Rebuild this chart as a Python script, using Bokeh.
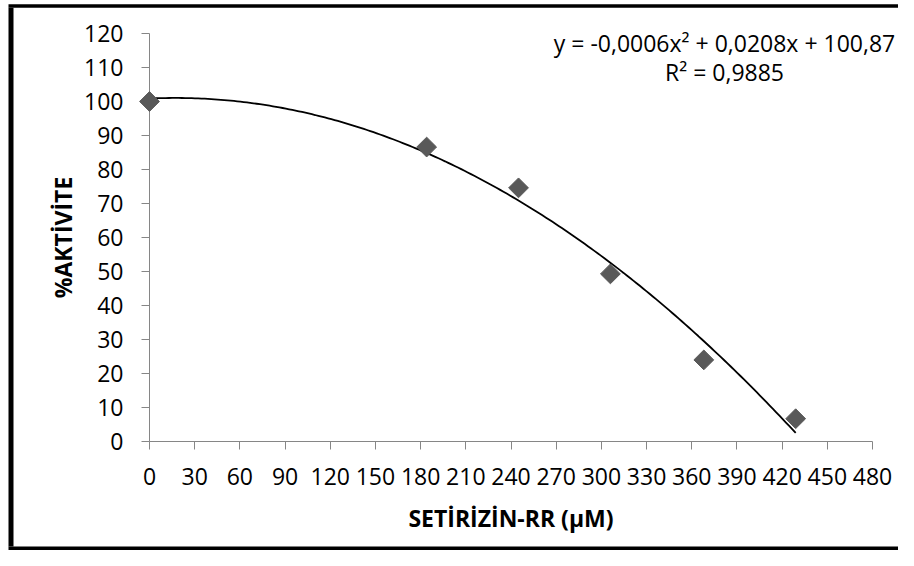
import numpy as np
from bokeh.plotting import figure
from bokeh.models import Range1d, FixedTicker
from bokeh.core.properties import value
from bokeh.embed import file_html
from bokeh.resources import INLINE

# data
conc = [0, 184, 245, 306, 368, 429]
activity = [100, 86.6, 74.6, 49.3, 24.0, 6.7]
x_ticks = list(range(0, 481, 30))
y_ticks = list(range(0, 121, 10))
eq_lines = ["y = -0,0006x\u00b2 + 0,0208x + 100,87", "R\u00b2 = 0,9885"]

FONT = "Open Sans"
FS = "23px"
AXIS_GRAY = "#868686"

W, H = 898, 550
ML, MR, MT, MB = 149, 26, 33, 109
XMIN, XMAX, YMIN, YMAX = 0, 480, 0, 120
frame_w = W - ML - MR
frame_h = H - MT - MB

def sx_to_x(sx):
    return XMIN + (sx - ML) * (XMAX - XMIN) / frame_w

def sy_to_y(sy):
    return YMIN + (MT + frame_h - sy) * (YMAX - YMIN) / frame_h

p = figure(width=W, height=H, output_backend="svg", toolbar_location=None,
           x_range=Range1d(XMIN, XMAX), y_range=Range1d(YMIN, YMAX),
           min_border_left=ML, min_border_right=MR, min_border_top=MT, min_border_bottom=MB)
p.outline_line_color = None
p.grid.grid_line_color = None
p.background_fill_color = "white"
p.border_fill_color = "white"

# trendline: 2nd order polynomial fit of the data
coef = np.polyfit(conc, activity, 2)
xs = np.linspace(conc[0], conc[-1], 200)
p.line(xs, np.polyval(coef, xs), line_color="black", line_width=1.8)

r = p.scatter(conc, activity, marker="square", size=14, angle=np.pi / 4,
              fill_color="#595959", line_color="#595959")
r.level = "overlay"

for ax in (p.xaxis, p.yaxis):
    ax.axis_line_color = AXIS_GRAY
    ax.major_tick_line_color = AXIS_GRAY
    ax.minor_tick_line_color = None
    ax.major_tick_out = 8
    ax.major_tick_in = 0
    ax.major_label_text_font = FONT
    ax.major_label_text_font_size = FS
    ax.major_label_text_color = "black"
    ax.axis_label_text_font = FONT
    ax.axis_label_text_font_size = FS
    ax.axis_label_text_font_style = "bold"
    ax.axis_label_text_color = "black"

p.xaxis.ticker = FixedTicker(ticks=x_ticks)
p.yaxis.ticker = FixedTicker(ticks=y_ticks)
p.xaxis.major_label_standoff = 18
p.yaxis.major_label_standoff = 18
p.xaxis.axis_label = "SETİRİZİN-RR (µM)"
p.yaxis.axis_label = "%AKTİVİTE"
p.xaxis.axis_label_standoff = 14
p.yaxis.axis_label_standoff = 2

# trendline equation (positioned in screen pixels, converted to data units)
t = p.text(x=[sx_to_x(724)] * 2, y=[sy_to_y(42), sy_to_y(71)], text=eq_lines,
           text_align="center", text_baseline="middle",
           text_font=value(FONT), text_font_size=value(FS), text_color="black")
t.level = "overlay"

# chart border: left, top and bottom edges (right edge lies outside the picture)
bx0, bx1 = sx_to_x(10.5), sx_to_x(W + 10)
by_top, by_bot = sy_to_y(5.5), sy_to_y(H - 2)
b1 = p.segment(x0=[bx0], y0=[by_bot + 0.6], x1=[bx0], y1=[by_top - 0.5], line_color="black", line_width=5)
b2 = p.segment(x0=[sx_to_x(8)], y0=[by_top], x1=[bx1], y1=[by_top], line_color="black", line_width=3.5)
b3 = p.segment(x0=[sx_to_x(8)], y0=[by_bot], x1=[bx1], y1=[by_bot], line_color="black", line_width=4)
for b in (b1, b2, b3):
    b.level = "overlay"

open("out.html", "w").write(file_html(p, INLINE))
